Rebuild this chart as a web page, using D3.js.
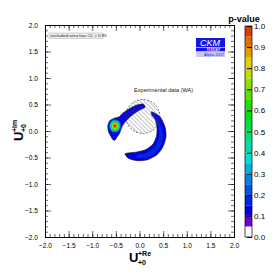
<!DOCTYPE html>
<html>
<head>
<meta charset="utf-8">
<script src="https://cdn.jsdelivr.net/npm/d3@7"></script>
<style>
  body { margin: 0; background: #fff; }
  svg { display: block; font-family: "Liberation Sans", Arial, sans-serif; }
</style>
</head>
<body>
<svg id="chart" width="276" height="276"></svg>
<script>
// --- data (data units) ---
var xTicks = [-2.0, -1.5, -1.0, -0.5, 0.0, 0.5, 1.0, 1.5, 2.0];
var yTicks = [-2.0, -1.5, -1.0, -0.5, 0.0, 0.5, 1.0, 1.5, 2.0];
var pTicks = [0.0, 0.1, 0.2, 0.3, 0.4, 0.5, 0.6, 0.7, 0.8, 0.9, 1.0];
var pLevels = [0.05, 0.1, 0.15, 0.2, 0.25, 0.3, 0.35, 0.4, 0.45, 0.5,
               0.55, 0.6, 0.65, 0.7, 0.75, 0.8, 0.85, 0.9, 0.95];

// experimental data (WA) disc
var expCenter = [0.07, 0.275];
var expRadius = [0.36, 0.32];

// crescent-shaped allowed region (p ~ 0.1)
var crescentOutline = [
  [0.258, 0.364], [0.434, 0.270], [0.540, 0.081], [0.561, -0.108],
  [0.497, -0.296], [0.364, -0.453], [0.152, -0.547], [-0.059, -0.560],
  [-0.237, -0.515], [-0.307, -0.434], [-0.243, -0.415], [-0.053, -0.396],
  [0.138, -0.349], [0.286, -0.245], [0.360, -0.094], [0.370, 0.075],
  [0.328, 0.226], [0.258, 0.302]
];
// lighter core inside the crescent (p ~ 0.15)
var crescentCore = [
  [0.35, 0.24], [0.44, 0.12], [0.50, -0.09], [0.44, -0.29], [0.30, -0.44],
  [0.15, -0.50], [-0.05, -0.51], [-0.05, -0.45], [0.15, -0.42],
  [0.34, -0.28], [0.42, -0.09], [0.41, 0.08], [0.36, 0.19]
];
// head + neck region around the best fit point
var neckOutline = [
  [0.080, 0.509], [-0.059, 0.491], [-0.201, 0.428], [-0.343, 0.345],
  [-0.428, 0.270], [-0.519, 0.245], [-0.630, 0.194], [-0.670, 0.094],
  [-0.656, -0.013], [-0.610, -0.094], [-0.567, -0.160], [-0.519, -0.175],
  [-0.478, -0.119], [-0.420, -0.043], [-0.385, 0.051], [-0.336, 0.132],
  [-0.237, 0.235], [-0.131, 0.316], [-0.004, 0.390], [0.116, 0.447]
];
// nested contours of the peak
var headCenter = [-0.52, 0.095];
var headLevels = [0.2, 0.3, 0.4, 0.5, 0.6, 0.7, 0.8, 0.9, 0.95];
var headRadii  = [0.125, 0.11, 0.097, 0.085, 0.073, 0.062, 0.05, 0.04, 0.027];

// --- drawing ---
var svg = d3.select("#chart");
var W = {l: 45, r: 234, t: 25, b: 237};

var x = d3.scaleLinear().domain([-2, 2]).range([W.l, W.r]);
var y = d3.scaleLinear().domain([-2, 2]).range([W.b, W.t]);
var pz = d3.scaleLinear().domain([0, 1]).range([237, 26]);

// rainbow palette, violet (low p) -> red (p = 1)
var hue = d3.scaleLinear()
  .domain([0.05, 0.1, 0.3, 0.5, 0.7, 0.9, 1.0])
  .range([268, 242, 192, 140, 82, 30, 2]);
function pcolor(v) {
  if (v < 0.05) return "#ffffff";
  return d3.hsl(hue(v), 1, 0.44).formatHex();
}

var defs = svg.append("defs");
defs.append("clipPath").attr("id", "plotclip")
  .append("rect").attr("x", W.l).attr("y", W.t)
  .attr("width", W.r - W.l).attr("height", W.b - W.t);
var pat = defs.append("pattern").attr("id", "hatch")
  .attr("patternUnits", "userSpaceOnUse")
  .attr("width", 3).attr("height", 3)
  .attr("patternTransform", "rotate(-45)");
pat.append("line").attr("x1", 0).attr("y1", 0).attr("x2", 0).attr("y2", 3)
  .style("stroke", "#555").style("stroke-width", 0.7);

var line = d3.line()
  .x(function(d) { return x(d[0]); })
  .y(function(d) { return y(d[1]); })
  .curve(d3.curveCardinalClosed.tension(0.3));

var plot = svg.append("g").attr("clip-path", "url(#plotclip)");

plot.append("path").datum(crescentOutline)
  .attr("d", line)
  .style("fill", pcolor(0.1)).style("stroke", "#111").style("stroke-width", 0.6);
plot.append("path").datum(crescentCore)
  .attr("d", line)
  .style("fill", pcolor(0.15)).style("stroke", "none");
plot.append("path").datum(neckOutline)
  .attr("d", line)
  .style("fill", pcolor(0.1)).style("stroke", "#111").style("stroke-width", 0.6);

plot.selectAll("ellipse.peak")
  .data(d3.zip(headLevels, headRadii))
  .enter().append("ellipse")
  .attr("class", "peak")
  .attr("cx", x(headCenter[0]))
  .attr("cy", y(headCenter[1]))
  .attr("rx", function(d) { return x(d[1]) - x(0); })
  .attr("ry", function(d) { return y(0) - y(d[1]); })
  .style("fill", function(d) { return pcolor(d[0]); });

// experimental data disc: hatch on top, dashed border
plot.append("ellipse")
  .attr("cx", x(expCenter[0])).attr("cy", y(expCenter[1]))
  .attr("rx", x(expRadius[0]) - x(0)).attr("ry", y(0) - y(expRadius[1]))
  .style("fill", "url(#hatch)")
  .style("stroke", "#333").style("stroke-width", 0.7)
  .style("stroke-dasharray", "2,1.5");

plot.append("text")
  .attr("x", 134).attr("y", 92)
  .style("font-size", "5.6px").style("fill", "#222")
  .text("Experimental data (WA)");

// axes with inward ticks on all four sides
function fmt(d) { return d3.format(".1f")(d); }
var minor = d3.range(-2, 2.0001, 0.1);

svg.append("g").attr("transform", "translate(0," + W.b + ")")
  .call(d3.axisBottom(x).tickValues(xTicks).tickFormat(fmt).tickSize(-6).tickPadding(6))
  .call(function(g) { g.selectAll("text").style("font-size", "6.6px"); });
svg.append("g").attr("transform", "translate(0," + W.b + ")")
  .call(d3.axisBottom(x).tickValues(minor).tickFormat("").tickSize(-3));
svg.append("g").attr("transform", "translate(0," + W.t + ")")
  .call(d3.axisTop(x).tickValues(xTicks).tickFormat("").tickSize(-6));
svg.append("g").attr("transform", "translate(0," + W.t + ")")
  .call(d3.axisTop(x).tickValues(minor).tickFormat("").tickSize(-3));

svg.append("g").attr("transform", "translate(" + W.l + ",0)")
  .call(d3.axisLeft(y).tickValues(yTicks).tickFormat(fmt).tickSize(-6).tickPadding(7))
  .call(function(g) { g.selectAll("text").style("font-size", "6.6px"); });
svg.append("g").attr("transform", "translate(" + W.l + ",0)")
  .call(d3.axisLeft(y).tickValues(minor).tickFormat("").tickSize(-3));
svg.append("g").attr("transform", "translate(" + W.r + ",0)")
  .call(d3.axisRight(y).tickValues(yTicks).tickFormat("").tickSize(-6));
svg.append("g").attr("transform", "translate(" + W.r + ",0)")
  .call(d3.axisRight(y).tickValues(minor).tickFormat("").tickSize(-3));

svg.selectAll(".domain").style("stroke", "#000").style("stroke-width", 0.8);
svg.selectAll(".tick line").style("stroke", "#000").style("stroke-width", 0.6);
svg.selectAll(".tick text").style("fill", "#000").style("font-family", "'Liberation Sans', Arial, sans-serif");

// axis titles
svg.append("text").attr("x", 129).attr("y", 262)
  .style("font-weight", "bold").style("font-size", "13px").text("U");
svg.append("text").attr("x", 138).attr("y", 256)
  .style("font-weight", "bold").style("font-size", "7px").text("+Re");
svg.append("text").attr("x", 138).attr("y", 265)
  .style("font-weight", "bold").style("font-size", "7px").text("+0");

var yt = svg.append("g").attr("transform", "translate(23,141) rotate(-90)");
yt.append("text").attr("x", 0).attr("y", 0)
  .style("font-weight", "bold").style("font-size", "13px").text("U");
yt.append("text").attr("x", 9).attr("y", -6)
  .style("font-weight", "bold").style("font-size", "7px").text("+Im");
yt.append("text").attr("x", 9).attr("y", 3)
  .style("font-weight", "bold").style("font-size", "7px").text("+0");

// legend box
svg.append("rect").attr("x", 49).attr("y", 33).attr("width", 54).attr("height", 5.5)
  .style("fill", "#eeeeee").style("stroke", "#999").style("stroke-width", 0.4);
svg.append("text").attr("x", 50.5).attr("y", 37.3)
  .style("font-size", "4.4px").style("fill", "#222")
  .text("excluded area has CL > 0.95");

// CKMfitter logo
var logo = svg.append("g");
logo.append("rect").attr("x", 196).attr("y", 38).attr("width", 29).attr("height", 9)
  .style("fill", "#1414e6");
logo.append("text").attr("x", 200).attr("y", 46)
  .style("font-size", "9px").style("font-style", "italic").style("fill", "#fff").text("CKM");
logo.append("rect").attr("x", 196).attr("y", 47.6).attr("width", 29).attr("height", 3.8)
  .style("fill", "#1414e6");
logo.append("text").attr("x", 207).attr("y", 51)
  .style("font-size", "4.5px").style("font-weight", "bold").style("fill", "#fff")
  .style("letter-spacing", "0.6px").text("fitter");
logo.append("rect").attr("x", 196).attr("y", 51.6).attr("width", 29).attr("height", 5.4)
  .style("fill", "#c8c8f4");
logo.append("text").attr("x", 204).attr("y", 55.9)
  .style("font-size", "4px").style("fill", "#1414e6").text("Alpha 2017");

// colour bar
var cb = {x: 245, w: 7};
var bands = [0].concat(pLevels);
svg.selectAll("rect.band").data(bands).enter().append("rect")
  .attr("class", "band")
  .attr("x", cb.x)
  .attr("width", cb.w)
  .attr("y", function(d, i) { return pz(i + 1 < bands.length ? bands[i + 1] : 1); })
  .attr("height", function(d, i) { return pz(d) - pz(i + 1 < bands.length ? bands[i + 1] : 1); })
  .style("fill", function(d) { return pcolor(d); });
svg.append("rect").attr("x", cb.x).attr("y", pz(1)).attr("width", cb.w)
  .attr("height", pz(0) - pz(1))
  .style("fill", "none").style("stroke", "#000").style("stroke-width", 0.7);
svg.append("g").attr("transform", "translate(" + (cb.x + cb.w) + ",0)")
  .call(d3.axisRight(pz).tickValues(pTicks).tickFormat(fmt).tickSize(-5).tickPadding(2))
  .call(function(g) {
    g.select(".domain").remove();
    g.selectAll("line").style("stroke", "#000").style("stroke-width", 1);
    g.selectAll("text").style("font-size", "8px").style("fill", "#000")
      .style("font-family", "'Liberation Sans', Arial, sans-serif");
  });
svg.append("text").attr("x", 244).attr("y", 21.5)
  .attr("text-anchor", "middle")
  .style("font-size", "9px").style("font-weight", "bold").text("p-value");
</script>
</body>
</html>
